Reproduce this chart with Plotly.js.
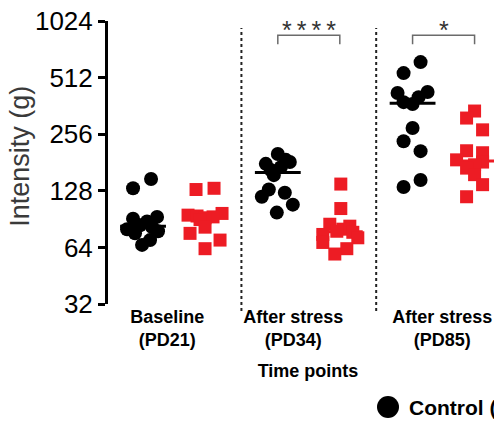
<!DOCTYPE html>
<html>
<head>
<meta charset="utf-8">
<script src="https://cdn.plot.ly/plotly-3.0.1.min.js"></script>
<style>
html,body{margin:0;padding:0;overflow:hidden;background:#fff;}
#chart{width:640px;height:460px;}
</style>
</head>
<body>
<div id="chart"></div>
<script>
// ---- data ----
const categories = ['Baseline (PD21)', 'After stress (PD34)', 'After stress (PD85)'];
const tickLabels = ['Baseline<br>(PD21)', 'After stress<br>(PD34)', 'After stress<br>(PD85)'];
const yTicks = [32, 64, 128, 256, 512, 1024];
const seriesNames = ['Control (CON)', 'Stress (CMS)'];

const controlBaseline = [148, 132, 93, 91, 88, 84, 82, 80, 78, 76, 70, 66];
const controlPD34     = [201, 187, 182, 178, 171, 165, 155, 130, 125, 119, 108, 98];
const controlPD85     = [619, 541, 429, 424, 403, 379, 370, 276, 235, 208, 146, 134];

const stressBaseline  = [132, 130, 97, 95, 94, 93, 92, 90, 82, 76, 70, 63];
const stressPD34      = [139, 103, 85, 83, 80, 78, 77, 75, 72, 68, 63, 59];
const stressPD85      = [340, 312, 270, 209, 204, 187, 182, 176, 169, 156, 138, 119];

// horizontal scatter of points
const jitControlBaseline = [8, -10, 14, -10, 4, -3, 9, -16, 15, -8, 7, -1];
const jitControlPD34     = [0, 8, 12, -12, 3, -7, -4, -9, 7, -16, 15, -1];
const jitControlPD85     = [8, -9, 15, -15, 6, -9, 0, 0, -9, 8, 8, -9];
const jitStressBaseline  = [9, -9, 17, -17, -8, 8, 0, -5, 0, -15, 15, 0];
const jitStressPD34      = [1, 1, -10, 10, 3, -3, 13, -17, 18, -17, 7, -5];
const jitStressPD85      = [0, -8, 8, -8, 8, -18, 8, 0, -8, 0, 8, -8];

const significance = ['', '****', '*'];

// ---- build ----
const controlSets = [controlBaseline, controlPD34, controlPD85];
const stressSets  = [stressBaseline, stressPD34, stressPD85];
const controlJit  = [jitControlBaseline, jitControlPD34, jitControlPD85];
const stressJit   = [jitStressBaseline, jitStressPD34, jitStressPD85];

const OFF = 0.23, JIT = 1/134.75, HALF = 0.17;
const BLACK = '#000000', RED = '#ed1c24';
const FONT = 'Liberation Sans, Arial, Helvetica, sans-serif';

function median(a){const s=[...a].sort((p,q)=>p-q);const n=s.length;return n%2?s[(n-1)/2]:(s[n/2-1]+s[n/2])/2;}

const traces = [];
function groupTrace(sets, jits, side, name, color, symbol, size){
  const x=[], y=[];
  sets.forEach((vals,i)=>{vals.forEach((v,k)=>{x.push(i+side*OFF+jits[i][k]*JIT); y.push(v);});});
  return {type:'scatter', mode:'markers', x, y, name, showlegend:false, cliponaxis:false,
    marker:{color, symbol, size, line:{width:0}}, hoverinfo:'y'};
}
function medianTraces(sets, side, color){
  sets.forEach((vals,i)=>{
    const m = median(vals), c = i+side*OFF;
    traces.push({type:'scatter', mode:'lines', x:[c-HALF, c+HALF], y:[m, m], showlegend:false,
      line:{color, width:3}, hoverinfo:'skip', cliponaxis:false});
  });
}
medianTraces(stressSets, 1, RED);
traces.push(groupTrace(controlSets, controlJit, -1, seriesNames[0], BLACK, 'circle', 14));
traces.push(groupTrace(stressSets, stressJit, 1, seriesNames[1], RED, 'square', 13));
medianTraces(controlSets, -1, BLACK);

// significance brackets
const BR_TOP = 860, BR_BOT = 770, STAR_Y = 920;
const annotations = [];
significance.forEach((s,i)=>{
  if(!s) return;
  traces.push({type:'scatter', mode:'lines', x:[i-OFF, i-OFF, i+OFF, i+OFF], y:[BR_BOT, BR_TOP, BR_TOP, BR_BOT],
    showlegend:false, line:{color:'#6b6b6b', width:1.5}, hoverinfo:'skip', cliponaxis:false});
  annotations.push({x:i, y:Math.log10(STAR_Y), xref:'x', yref:'y', text:s.split('').join('\u2009'), showarrow:false,
    font:{family:FONT, size:25, color:'#333'}, yanchor:'middle'});
});

// y-axis title (placed as annotation to match its offset)
annotations.push({xref:'paper', yref:'paper', x:-0.22, y:0.52, text:'Intensity (g)', textangle:-90,
  showarrow:false, xanchor:'center', yanchor:'middle', font:{family:FONT, size:27, color:'#3a3a3a'}});

// legend (drawn manually for large symbols)
const shapes = [0.5, 1.5].map(xv=>({type:'line', xref:'x', yref:'paper', x0:xv, x1:xv, y0:-0.025, y1:0.975,
  line:{color:'#222', width:2, dash:'dot'}}));
const legY = -0.364;
shapes.push({type:'circle', xref:'paper', yref:'paper', xsizemode:'pixel', ysizemode:'pixel',
  xanchor:0.70, yanchor:legY, x0:-11, x1:11, y0:-11, y1:11, fillcolor:BLACK, line:{width:0}});
shapes.push({type:'rect', xref:'paper', yref:'paper', xsizemode:'pixel', ysizemode:'pixel',
  xanchor:1.19, yanchor:legY, x0:-10, x1:10, y0:-10, y1:10, fillcolor:RED, line:{width:0}});
annotations.push({xref:'paper', yref:'paper', x:0.7475, y:legY, text:'<b>'+seriesNames[0]+'</b>', showarrow:false,
  xanchor:'left', yanchor:'middle', font:{family:FONT, size:21, color:'#000'}});
annotations.push({xref:'paper', yref:'paper', x:1.24, y:legY, text:'<b>'+seriesNames[1]+'</b>', showarrow:false,
  xanchor:'left', yanchor:'middle', font:{family:FONT, size:21, color:'#000'}});

const labelShift = [-0.05, -0.115, -0.01];
const layout = {
  width:640, height:460,
  margin:{l:108, r:132, t:21, b:156},
  paper_bgcolor:'#fff', plot_bgcolor:'#fff',
  font:{family:FONT, color:'#000'},
  showlegend:false,
  xaxis:{range:[-0.49, 2.478], showline:false, showgrid:false, zeroline:false, ticks:'',
    tickvals:categories.map((c,i)=>i+labelShift[i]), ticktext:tickLabels,
    tickfont:{size:18, weight:'bold', color:'#000'},
    title:{text:'Time points', font:{size:18, weight:'bold', color:'#000'}, standoff:14}},
  yaxis:{type:'log', range:[Math.log10(32), Math.log10(1024)], tickvals:yTicks, ticktext:yTicks.map(String),
    showline:true, linewidth:3, linecolor:'#000', ticks:'outside', ticklen:7, tickwidth:3, tickcolor:'#000',
    showgrid:false, zeroline:false, tickfont:{size:26, color:'#000'}},
  shapes, annotations
};
Plotly.newPlot('chart', traces, layout, {displayModeBar:false, staticPlot:true});
</script>
</body>
</html>
